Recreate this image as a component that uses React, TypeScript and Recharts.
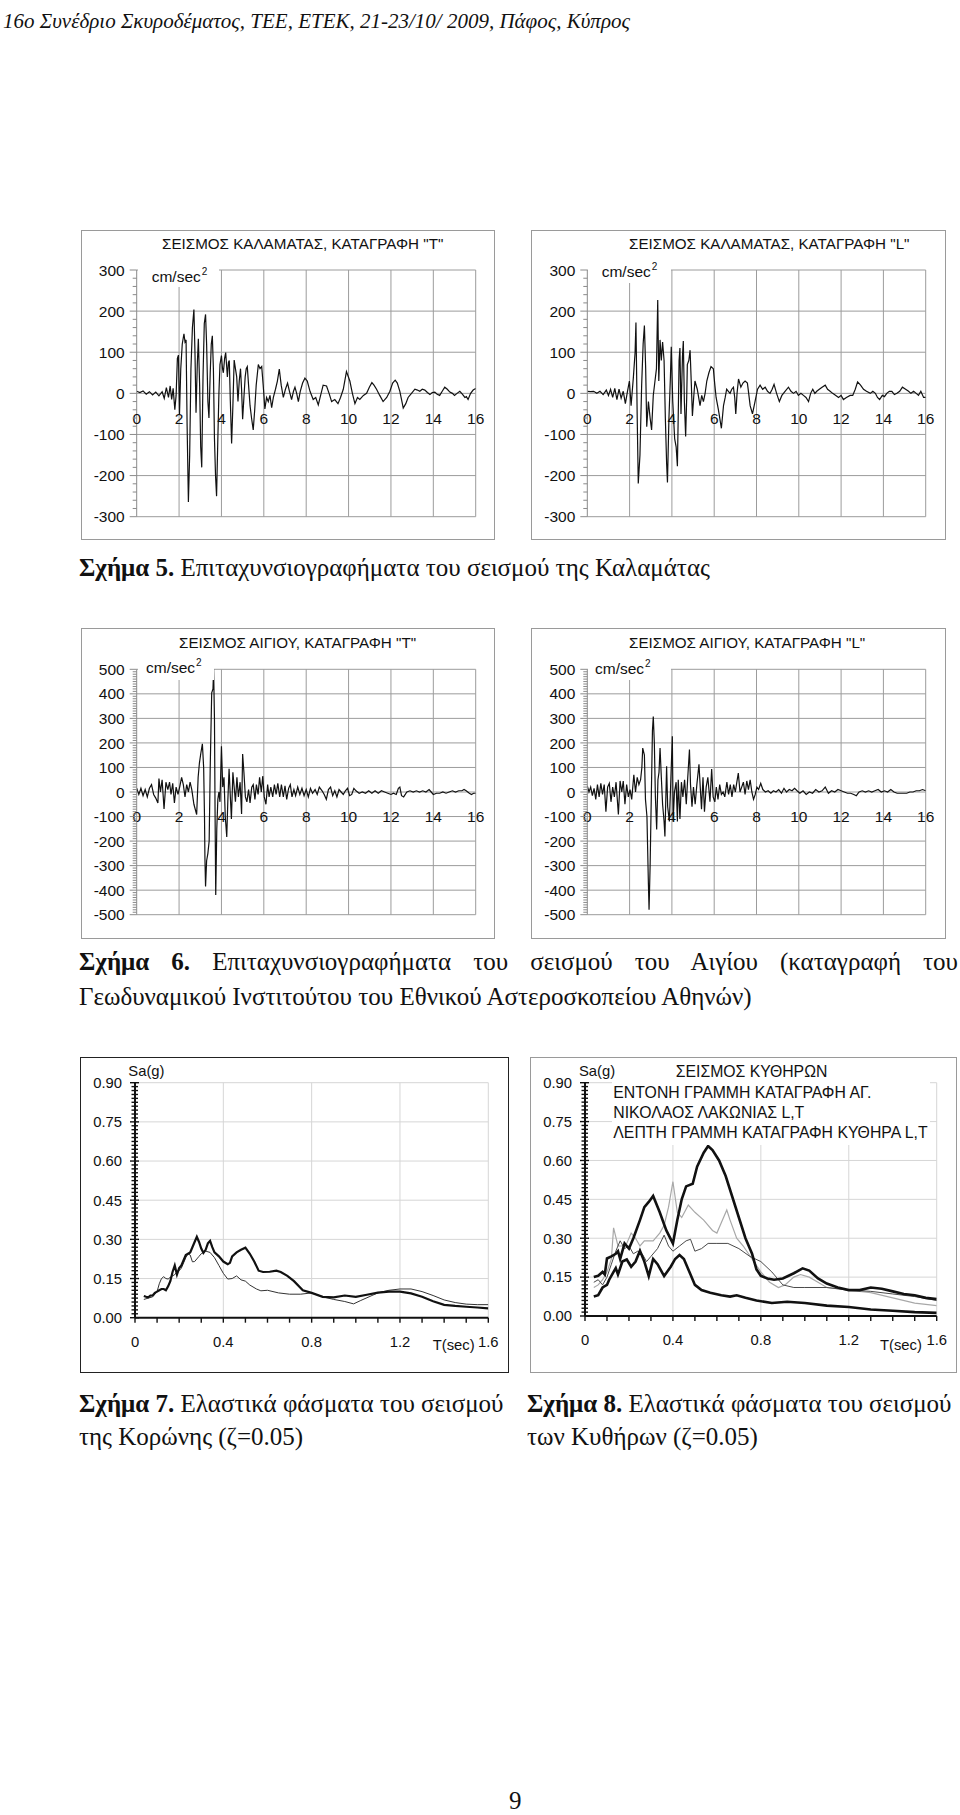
import React from "react";
import { LineChart, Line, XAxis, YAxis, ReferenceLine } from "recharts";

type Pt = [number, number];

// ---------- Data: accelerograms (time s, acceleration cm/s^2) ----------
const kalamataT: Pt[] = [
  [0,5],[0.15,2],[0.3,6],[0.45,-2],[0.6,4],[0.75,-4],[0.9,3],[1.05,-6],[1.2,4],[1.3,-12],
  [1.4,14],[1.5,-10],[1.58,18],[1.65,-15],[1.72,12],[1.8,-40],[1.86,-5],[1.92,85],[1.97,93],[2.02,-50],
  [2.08,60],[2.15,120],[2.23,145],[2.28,125],[2.33,130],[2.38,-80],[2.44,-264],[2.5,-150],[2.56,60],[2.63,160],
  [2.7,204],[2.75,100],[2.8,-47],[2.86,70],[2.91,133],[2.97,20],[3.02,-130],[3.07,-180],[3.13,40],[3.19,170],
  [3.25,192],[3.3,120],[3.36,-20],[3.41,-60],[3.47,50],[3.52,120],[3.57,140],[3.62,60],[3.67,-110],[3.72,-200],
  [3.77,-250],[3.83,-110],[3.88,0],[3.93,70],[4.0,92],[4.05,60],[4.09,50],[4.15,85],[4.2,99],[4.24,70],
  [4.28,40],[4.33,75],[4.37,80],[4.42,-20],[4.48,-122],[4.54,-30],[4.6,81],[4.66,60],[4.72,40],[4.78,-20],
  [4.84,30],[4.9,60],[4.95,10],[5.0,-63],[5.06,-10],[5.12,40],[5.17,60],[5.22,65],[5.28,20],[5.35,-30],
  [5.42,-60],[5.5,-89],[5.57,-40],[5.64,20],[5.74,70],[5.82,60],[5.9,65],[5.97,20],[6.05,-38],[6.13,-10],
  [6.21,-20],[6.29,-5],[6.37,-35],[6.45,-10],[6.55,10],[6.64,30],[6.73,59],[6.82,20],[6.92,-10],[7.02,10],
  [7.12,25],[7.21,5],[7.31,-15],[7.4,5],[7.47,15],[7.55,0],[7.63,-20],[7.72,5],[7.83,25],[7.94,37],
  [8.05,30],[8.18,5],[8.33,-15],[8.45,-10],[8.57,-28],[8.68,-5],[8.8,20],[8.96,18],[9.08,0],[9.2,-20],
  [9.35,-15],[9.5,-25],[9.62,-10],[9.75,10],[9.9,53],[10.06,30],[10.18,0],[10.3,-25],[10.42,-10],[10.53,-15],
  [10.7,-5],[10.85,0],[10.98,15],[11.1,26],[11.2,20],[11.32,10],[11.47,-5],[11.63,-20],[11.8,-10],[11.95,5],
  [12.08,25],[12.2,32],[12.3,25],[12.42,5],[12.5,-15],[12.58,-36],[12.7,-25],[12.81,-10],[12.97,0],[13.13,10],
  [13.25,8],[13.36,5],[13.48,10],[13.6,8],[13.72,2],[13.84,-3],[13.95,2],[14.07,3],[14.18,-2],[14.3,-5],
  [14.42,5],[14.54,15],[14.66,10],[14.78,3],[14.9,0],[15.0,-5],[15.12,0],[15.25,5],[15.37,-2],[15.49,-10],
  [15.56,-8],[15.64,-15],[15.76,0],[15.88,8],[16,12],
];

const kalamataL: Pt[] = [
  [0,5],[0.15,4],[0.3,5],[0.45,0],[0.6,5],[0.75,-3],[0.9,8],[1.0,-5],[1.1,10],[1.2,-10],
  [1.3,12],[1.4,-15],[1.5,10],[1.6,-12],[1.7,5],[1.8,-25],[1.9,5],[1.99,30],[2.07,-30],[2.18,40],
  [2.26,100],[2.3,172],[2.36,-60],[2.41,-219],[2.49,-150],[2.57,20],[2.64,120],[2.7,165],[2.76,60],[2.81,-81],
  [2.89,-20],[2.97,-60],[3.04,-89],[3.12,-5],[3.2,30],[3.27,60],[3.33,227],[3.38,30],[3.44,130],[3.5,80],
  [3.56,125],[3.63,80],[3.69,-60],[3.75,-170],[3.79,-217],[3.86,-60],[3.93,40],[3.97,113],[4.04,-20],[4.13,-110],
  [4.2,-130],[4.26,-177],[4.31,-20],[4.34,80],[4.38,110],[4.43,-50],[4.5,90],[4.54,127],[4.59,-20],[4.65,-105],
  [4.7,-10],[4.73,70],[4.8,80],[4.86,105],[4.92,20],[4.97,-55],[5.03,-10],[5.09,30],[5.2,10],[5.33,-30],
  [5.41,-5],[5.49,-20],[5.57,0],[5.65,30],[5.75,50],[5.85,65],[5.96,60],[6.03,20],[6.09,-10],[6.2,-40],
  [6.34,-85],[6.44,-30],[6.52,-10],[6.59,10],[6.67,5],[6.75,0],[6.83,10],[6.91,15],[6.97,-10],[7.02,-50],
  [7.08,0],[7.15,35],[7.26,15],[7.36,25],[7.46,30],[7.57,25],[7.63,0],[7.7,-30],[7.81,-50],[7.93,-20],
  [8.05,10],[8.17,20],[8.29,10],[8.41,15],[8.52,5],[8.64,0],[8.74,10],[8.83,22],[8.95,0],[9.08,-20],
  [9.2,-5],[9.35,5],[9.51,15],[9.63,5],[9.75,0],[9.87,5],[9.98,-5],[10.1,0],[10.22,-5],[10.34,-10],
  [10.46,-20],[10.56,0],[10.66,10],[10.76,0],[10.85,5],[10.97,10],[11.1,15],[11.25,20],[11.36,10],[11.48,5],
  [11.6,0],[11.75,-5],[11.88,-10],[12.0,-5],[12.11,-15],[12.25,-10],[12.43,-5],[12.55,-5],[12.67,10],[12.78,28],
  [12.92,20],[13.06,10],[13.2,5],[13.38,0],[13.5,5],[13.62,0],[13.72,-10],[13.82,-15],[13.95,-5],[14.05,-8],
  [14.16,0],[14.28,5],[14.4,5],[14.52,-3],[14.64,0],[14.77,5],[14.9,15],[15.05,10],[15.19,5],[15.3,0],
  [15.43,5],[15.55,0],[15.66,-5],[15.77,5],[15.9,-10],[16,-10],
];

const aigioT: Pt[] = [
  [0,15],[0.1,-10],[0.2,15],[0.3,-15],[0.4,10],[0.5,-20],[0.6,15],[0.7,30],[0.8,-10],[0.9,-25],
  [1.0,-45],[1.05,55],[1.12,0],[1.2,50],[1.29,-69],[1.38,40],[1.47,10],[1.55,40],[1.62,-10],[1.7,35],
  [1.78,-45],[1.86,20],[1.95,-10],[2.04,25],[2.12,60],[2.2,30],[2.28,-20],[2.36,30],[2.44,0],[2.52,40],
  [2.6,10],[2.7,-50],[2.83,-92],[2.9,60],[2.96,118],[3.03,160],[3.1,196],[3.16,100],[3.2,-100],[3.22,-269],
  [3.25,-385],[3.3,-280],[3.36,-250],[3.42,-200],[3.47,100],[3.54,404],[3.6,420],[3.63,500],[3.67,300],[3.7,-100],
  [3.73,-420],[3.78,-150],[3.83,-30],[3.88,0],[3.93,-40],[4.0,186],[4.06,20],[4.12,60],[4.18,-100],[4.25,-183],
  [4.3,-40],[4.36,95],[4.42,-20],[4.47,-110],[4.54,80],[4.6,20],[4.66,-40],[4.73,60],[4.8,-20],[4.88,40],
  [4.95,-90],[5.0,155],[5.06,80],[5.13,-20],[5.2,-40],[5.28,10],[5.35,-45],[5.43,20],[5.5,30],[5.58,-30],
  [5.65,30],[5.73,-10],[5.8,60],[5.88,0],[5.95,65],[6.02,-20],[6.1,-50],[6.18,30],[6.25,-20],[6.33,20],
  [6.42,-20],[6.5,30],[6.58,-10],[6.66,35],[6.75,-20],[6.83,30],[6.92,-20],[7.0,25],[7.08,-30],[7.17,15],
  [7.25,30],[7.33,-20],[7.42,10],[7.5,-15],[7.6,20],[7.7,-10],[7.8,15],[7.9,-15],[8.0,10],[8.1,-20],
  [8.2,15],[8.3,-5],[8.42,10],[8.52,-10],[8.62,20],[8.75,5],[8.85,-10],[8.95,-30],[9.05,10],[9.15,20],
  [9.25,-15],[9.35,5],[9.45,-20],[9.55,10],[9.65,0],[9.75,-10],[9.85,5],[9.95,15],[10.05,-15],[10.15,-10],
  [10.25,15],[10.35,5],[10.5,-5],[10.65,0],[10.8,-5],[10.95,5],[11.1,-5],[11.25,5],[11.4,-5],[11.55,5],
  [11.7,0],[11.85,-5],[12.0,-10],[12.12,-5],[12.25,-10],[12.35,15],[12.42,20],[12.5,-15],[12.6,-20],[12.75,0],
  [12.9,5],[13.05,0],[13.2,5],[13.35,0],[13.5,5],[13.65,0],[13.8,10],[13.9,0],[14.0,-10],[14.15,-5],
  [14.3,-5],[14.45,0],[14.6,-5],[14.75,0],[14.9,5],[15.05,0],[15.2,5],[15.35,5],[15.45,10],[15.55,5],
  [15.7,-5],[15.8,-10],[15.9,-5],[16,-5],
];

const aigioL: Pt[] = [
  [0,25],[0.08,0],[0.16,20],[0.24,-15],[0.32,15],[0.4,-30],[0.48,30],[0.56,-20],[0.64,35],[0.72,-10],
  [0.8,30],[0.88,-80],[0.96,20],[1.04,35],[1.12,-40],[1.2,20],[1.28,-20],[1.36,40],[1.47,-92],[1.55,45],
  [1.63,0],[1.7,45],[1.78,-50],[1.86,30],[1.94,-20],[2.02,10],[2.1,-30],[2.2,70],[2.28,0],[2.36,60],
  [2.44,30],[2.52,50],[2.58,100],[2.62,179],[2.7,150],[2.75,-30],[2.82,-100],[2.89,-377],[2.92,-480],[2.97,-300],
  [3.03,0],[3.08,250],[3.12,308],[3.17,200],[3.22,-20],[3.28,-153],[3.34,50],[3.39,80],[3.44,179],[3.5,60],
  [3.56,-50],[3.63,-120],[3.67,-181],[3.72,0],[3.75,105],[3.8,-60],[3.88,-120],[3.95,50],[4.02,227],[4.06,-120],
  [4.12,0],[4.2,40],[4.26,-120],[4.3,50],[4.38,-110],[4.45,40],[4.52,-20],[4.6,50],[4.68,-50],[4.75,60],
  [4.83,173],[4.88,30],[4.95,-60],[5.02,20],[5.1,-50],[5.18,30],[5.28,113],[5.34,20],[5.4,-70],[5.47,60],
  [5.54,-80],[5.62,20],[5.7,60],[5.8,-40],[5.88,94],[5.95,-20],[6.03,-40],[6.1,20],[6.18,-30],[6.26,30],
  [6.34,-10],[6.42,0],[6.5,-20],[6.6,40],[6.68,-10],[6.76,30],[6.84,-20],[6.92,30],[7.0,0],[7.07,40],
  [7.14,77],[7.22,0],[7.3,20],[7.38,40],[7.46,-10],[7.54,45],[7.62,10],[7.7,50],[7.78,0],[7.86,-30],
  [7.94,-10],[8.02,20],[8.1,10],[8.2,35],[8.3,10],[8.42,0],[8.55,5],[8.68,-5],[8.8,5],[8.92,0],
  [9.05,10],[9.18,-5],[9.3,15],[9.42,0],[9.55,10],[9.68,5],[9.8,15],[9.92,5],[10.05,-5],[10.2,5],
  [10.35,-10],[10.5,0],[10.65,-5],[10.8,10],[10.95,0],[11.1,5],[11.25,20],[11.4,-5],[11.55,5],[11.7,0],
  [11.85,10],[12.0,5],[12.15,0],[12.3,-5],[12.45,-5],[12.6,-10],[12.72,-15],[12.85,0],[13.0,5],[13.15,0],
  [13.3,5],[13.45,0],[13.6,5],[13.75,10],[13.9,0],[14.05,5],[14.2,0],[14.35,10],[14.5,0],[14.65,-5],
  [14.8,-5],[14.95,-5],[15.1,-5],[15.25,0],[15.4,0],[15.55,5],[15.7,5],[15.85,10],[16,5],
];

// ---------- Data: elastic spectra (period s, Sa g) ----------
const koroniThick: Pt[] = [
  [0.04,0.083],[0.05,0.08],[0.06,0.078],[0.07,0.085],[0.08,0.085],[0.09,0.095],[0.1,0.1],[0.11,0.105],[0.12,0.11],[0.13,0.11],
  [0.14,0.105],[0.15,0.12],[0.16,0.14],[0.17,0.175],[0.18,0.2],[0.19,0.165],[0.2,0.19],[0.21,0.2],[0.22,0.22],[0.23,0.24],
  [0.24,0.245],[0.25,0.25],[0.26,0.27],[0.27,0.29],[0.28,0.31],[0.29,0.29],[0.3,0.265],[0.31,0.248],[0.32,0.26],[0.33,0.285],
  [0.34,0.294],[0.35,0.27],[0.36,0.25],[0.38,0.235],[0.4,0.215],[0.42,0.205],[0.43,0.21],[0.44,0.235],[0.46,0.25],[0.48,0.26],
  [0.5,0.268],[0.52,0.245],[0.54,0.215],[0.56,0.18],[0.58,0.175],[0.61,0.176],[0.64,0.18],[0.66,0.175],[0.69,0.16],[0.72,0.14],
  [0.76,0.105],[0.8,0.095],[0.85,0.08],[0.9,0.078],[0.95,0.085],[1.0,0.08],[1.05,0.088],[1.1,0.096],[1.15,0.1],[1.2,0.1],
  [1.25,0.093],[1.3,0.08],[1.35,0.063],[1.4,0.049],[1.45,0.045],[1.5,0.042],[1.55,0.039],[1.6,0.036],
];
const koroniThin: Pt[] = [
  [0.04,0.07],[0.06,0.075],[0.08,0.08],[0.1,0.1],[0.11,0.13],[0.12,0.15],[0.13,0.157],[0.14,0.15],[0.15,0.148],[0.16,0.155],
  [0.17,0.16],[0.18,0.165],[0.19,0.175],[0.2,0.18],[0.21,0.19],[0.22,0.21],[0.23,0.23],[0.24,0.245],[0.25,0.24],[0.26,0.214],
  [0.27,0.215],[0.28,0.225],[0.29,0.235],[0.3,0.245],[0.32,0.255],[0.34,0.25],[0.36,0.23],[0.38,0.2],[0.4,0.17],[0.42,0.148],
  [0.44,0.15],[0.46,0.16],[0.48,0.145],[0.5,0.14],[0.52,0.125],[0.55,0.11],[0.57,0.103],[0.6,0.105],[0.65,0.095],[0.7,0.09],
  [0.75,0.09],[0.8,0.095],[0.85,0.08],[0.9,0.07],[0.95,0.062],[0.99,0.053],[1.02,0.065],[1.06,0.08],[1.1,0.095],[1.15,0.105],
  [1.2,0.11],[1.25,0.11],[1.3,0.1],[1.35,0.085],[1.4,0.068],[1.45,0.058],[1.5,0.052],[1.55,0.05],[1.6,0.05],
];

const kytheraAgNikThickA: Pt[] = [
  [0.04,0.15],[0.06,0.155],[0.08,0.17],[0.09,0.16],[0.1,0.222],[0.12,0.23],[0.14,0.24],[0.15,0.25],[0.16,0.22],[0.18,0.28],
  [0.2,0.26],[0.22,0.3],[0.25,0.37],[0.27,0.42],[0.29,0.44],[0.31,0.463],[0.34,0.4],[0.37,0.33],[0.4,0.28],[0.42,0.37],
  [0.44,0.45],[0.46,0.5],[0.49,0.51],[0.51,0.576],[0.54,0.63],[0.56,0.656],[0.58,0.64],[0.61,0.6],[0.64,0.54],[0.67,0.46],
  [0.7,0.38],[0.73,0.3],[0.76,0.24],[0.78,0.18],[0.8,0.155],[0.83,0.145],[0.86,0.14],[0.9,0.145],[0.95,0.165],[0.99,0.184],
  [1.02,0.175],[1.06,0.145],[1.1,0.125],[1.15,0.11],[1.2,0.1],[1.25,0.1],[1.3,0.11],[1.35,0.105],[1.4,0.095],[1.45,0.085],
  [1.5,0.08],[1.55,0.07],[1.6,0.065],
];
const kytheraAgNikThickB: Pt[] = [
  [0.04,0.075],[0.06,0.08],[0.08,0.11],[0.1,0.12],[0.11,0.14],[0.13,0.17],[0.14,0.185],[0.15,0.16],[0.17,0.21],[0.19,0.218],
  [0.21,0.19],[0.23,0.21],[0.25,0.252],[0.27,0.21],[0.29,0.154],[0.31,0.22],[0.33,0.2],[0.36,0.154],[0.39,0.19],[0.41,0.22],
  [0.43,0.235],[0.45,0.22],[0.48,0.16],[0.5,0.12],[0.53,0.1],[0.57,0.09],[0.62,0.08],[0.66,0.075],[0.69,0.08],[0.73,0.07],
  [0.78,0.06],[0.85,0.05],[0.92,0.055],[1.0,0.05],[1.1,0.04],[1.2,0.035],[1.3,0.025],[1.4,0.02],[1.5,0.015],[1.6,0.012],
];
const kytheraLightC: Pt[] = [
  [0.04,0.11],[0.06,0.12],[0.08,0.14],[0.1,0.17],[0.12,0.22],[0.13,0.34],[0.15,0.27],[0.17,0.27],[0.19,0.28],[0.21,0.32],
  [0.23,0.3],[0.25,0.27],[0.27,0.29],[0.29,0.29],[0.31,0.29],[0.34,0.32],[0.36,0.35],[0.38,0.42],[0.4,0.518],[0.42,0.4],
  [0.44,0.38],[0.47,0.428],[0.5,0.4],[0.54,0.37],[0.58,0.33],[0.6,0.32],[0.62,0.36],[0.645,0.409],[0.66,0.37],[0.69,0.3],
  [0.72,0.27],[0.76,0.22],[0.8,0.17],[0.84,0.13],[0.88,0.11],[0.91,0.12],[0.95,0.15],[0.98,0.16],[1.02,0.15],[1.06,0.13],
  [1.1,0.11],[1.2,0.1],[1.3,0.09],[1.4,0.07],[1.5,0.05],[1.6,0.04],
];
const kytheraDarkD: Pt[] = [
  [0.04,0.13],[0.06,0.14],[0.08,0.12],[0.1,0.15],[0.12,0.2],[0.14,0.25],[0.16,0.29],[0.18,0.26],[0.2,0.27],[0.22,0.24],
  [0.24,0.25],[0.26,0.24],[0.28,0.21],[0.3,0.23],[0.33,0.26],[0.36,0.312],[0.38,0.27],[0.4,0.25],[0.43,0.27],[0.46,0.29],
  [0.48,0.296],[0.5,0.25],[0.53,0.26],[0.56,0.28],[0.6,0.28],[0.65,0.28],[0.7,0.26],[0.75,0.23],[0.8,0.21],[0.85,0.17],
  [0.9,0.12],[0.95,0.11],[1.0,0.11],[1.1,0.11],[1.2,0.1],[1.3,0.095],[1.4,0.085],[1.5,0.075],[1.6,0.06],
];

// ---------- Tick labels ----------
const traceXTicks = [0, 2, 4, 6, 8, 10, 12, 14, 16];
const kalamataYLabels = [-300, -200, -100, 0, 100, 200, 300];
const aigioYLabels = [-500, -400, -300, -200, -100, 0, 100, 200, 300, 400, 500];
const spectraXLabels = [0, 0.4, 0.8, 1.2, 1.6];
const spectraXMinor = [0, 0.1, 0.2, 0.3, 0.4, 0.5, 0.6, 0.7, 0.8, 0.9, 1.0, 1.1, 1.2, 1.3, 1.4, 1.5, 1.6];
const spectraYLabels = [0, 0.15, 0.3, 0.45, 0.6, 0.75, 0.9];

const SANS = "'Liberation Sans', Arial, Helvetica, sans-serif";
const SERIF = "'Liberation Serif', 'Times New Roman', serif";

type TraceProps = {
  left: number; top: number; w: number; h: number;
  plotL: number; plotT: number; plotR: number; plotB: number;
  data: Pt[]; yMax: number; minorStep: number; yLabels: number[];
  title: string; titleL: number; titleCy: number;
  unitL: number; unitCy: number; cover: [number, number, number, number];
  xLabelOff: number;
};

function TraceChart(p: TraceProps) {
  const plotH = p.plotB - p.plotT;
  const rows = p.data.map(([t, v]) => ({ t, v }));
  const minorTicks: number[] = [];
  const n = Math.round((2 * p.yMax) / p.minorStep);
  for (let i = 0; i <= n; i++) minorTicks.push(Math.round(-p.yMax + i * p.minorStep));
  const yTick = (props: any) => {
    const { x, y, payload } = props;
    const v = payload.value;
    const major = p.yLabels.includes(v);
    return (
      <g>
        <line x1={x} x2={x - (major ? 7 : 4)} y1={y} y2={y} stroke="#8a8a8a" strokeWidth={1} />
        {major && (
          <text x={x - 12} y={y} dy="0.36em" textAnchor="end" fontSize={15.5} fontFamily={SANS} fill="#111">
            {v}
          </text>
        )}
      </g>
    );
  };
  const xTick = (props: any) => {
    const { x, y, payload } = props;
    return (
      <text x={x} y={y - plotH / 2 + p.xLabelOff} dy="0.36em" textAnchor="middle" fontSize={15.5} fontFamily={SANS} fill="#111">
        {payload.value}
      </text>
    );
  };
  return (
    <>
      <div style={{ position: "absolute", left: p.left, top: p.top, width: p.w, height: p.h }}>
        <LineChart width={p.w} height={p.h} data={rows} margin={{ top: p.plotT, right: p.w - p.plotR, bottom: 0, left: 0 }}>
          <XAxis dataKey="t" type="number" domain={[0, 16]} ticks={traceXTicks} interval={0} axisLine={false}
            tickLine={false} tickSize={0} tickMargin={0} height={p.h - p.plotB} tick={xTick} allowDataOverflow />
          <YAxis type="number" domain={[-p.yMax, p.yMax]} ticks={minorTicks} interval={0} width={p.plotL}
            axisLine={{ stroke: "#8a8a8a", strokeWidth: 1 }} tickLine={false} tickSize={0} tickMargin={0} tick={yTick} allowDataOverflow />
          {p.yLabels.map((v) => (
            <ReferenceLine key={"gy" + v} y={v} stroke="#9c9c9c" strokeWidth={1} />
          ))}
          {traceXTicks.slice(1).map((v) => (
            <ReferenceLine key={"gx" + v} x={v} stroke="#9c9c9c" strokeWidth={1} />
          ))}
          <Line dataKey="v" stroke="#111" strokeWidth={1.2} dot={false} isAnimationActive={false} type="linear" />
        </LineChart>
      </div>
      <div style={{ position: "absolute", left: p.left, top: p.top, width: p.w, height: p.h, boxSizing: "border-box", border: "1.5px solid #9a9a9a" }} />
      <div style={{ position: "absolute", left: p.titleL, top: p.titleCy - 8, lineHeight: "16px", fontSize: 15.2, fontFamily: SANS, whiteSpace: "nowrap", color: "#111" }}>
        {p.title}
      </div>
      <div style={{ position: "absolute", left: p.cover[0], top: p.cover[1], width: p.cover[2] - p.cover[0], height: p.cover[3] - p.cover[1], background: "#fff" }} />
      <div style={{ position: "absolute", left: p.unitL, top: p.unitCy - 8, lineHeight: "16px", fontSize: 15.5, fontFamily: SANS, whiteSpace: "nowrap", color: "#111" }}>
        cm/sec<span style={{ fontSize: 10, position: "relative", top: -7, marginLeft: 1 }}>2</span>
      </div>
    </>
  );
}

type SpecLine = { data: Pt[]; color: string; width: number };
type SpecProps = {
  left: number; top: number; w: number; h: number;
  plotL: number; plotT: number; plotR: number; plotB: number;
  lines: SpecLine[]; border: string;
};

function SpectraChart(p: SpecProps) {
  const minor: number[] = [];
  for (let i = 0; i <= 60; i++) minor.push(Math.round(i * 15) / 1000);
  const yTick = (props: any) => {
    const { x, y, payload } = props;
    const v = payload.value as number;
    const major = spectraYLabels.some((m) => Math.abs(m - v) < 1e-6);
    return (
      <g>
        <line x1={x - (major ? 5 : 3.5)} x2={x + (major ? 4 : 3)} y1={y} y2={y} stroke="#111" strokeWidth={1.4} />
        {major && (
          <text x={x - 13} y={y} dy="0.36em" textAnchor="end" fontSize={14.8} fontFamily={SANS} fill="#111">
            {v.toFixed(2)}
          </text>
        )}
      </g>
    );
  };
  const xTick = (props: any) => {
    const { x, y, payload } = props;
    const v = payload.value as number;
    const major = spectraXLabels.some((m) => Math.abs(m - v) < 1e-6);
    return (
      <g>
        <line x1={x} x2={x} y1={y} y2={y + 5} stroke="#111" strokeWidth={1.4} />
        {major && (
          <text x={x} y={y + 24} dy="0.36em" textAnchor="middle" fontSize={14.8} fontFamily={SANS} fill="#111">
            {String(v)}
          </text>
        )}
      </g>
    );
  };
  return (
    <>
      <div style={{ position: "absolute", left: p.left, top: p.top, width: p.w, height: p.h }}>
        <LineChart width={p.w} height={p.h} margin={{ top: p.plotT, right: p.w - p.plotR, bottom: 0, left: 0 }}>
          <XAxis dataKey="t" type="number" domain={[0, 1.6]} ticks={spectraXMinor} interval={0}
            axisLine={{ stroke: "#111", strokeWidth: 2 }} tickLine={false} tickSize={0} tickMargin={0}
            height={p.h - p.plotB} tick={xTick} allowDataOverflow />
          <YAxis type="number" domain={[0, 0.9]} ticks={minor} interval={0} width={p.plotL}
            axisLine={{ stroke: "#111", strokeWidth: 2 }} tickLine={false} tickSize={0} tickMargin={0} tick={yTick} allowDataOverflow />
          {spectraYLabels.slice(1).map((v) => (
            <ReferenceLine key={"gy" + v} y={v} stroke="#d6d6d6" strokeWidth={1} />
          ))}
          {spectraXLabels.slice(1).map((v) => (
            <ReferenceLine key={"gx" + v} x={v} stroke="#d6d6d6" strokeWidth={1} />
          ))}
          {p.lines.map((l, i) => (
            <Line key={i} data={l.data.map(([t, v]) => ({ t, v }))} dataKey="v" stroke={l.color} strokeWidth={l.width}
              dot={false} isAnimationActive={false} type="linear" />
          ))}
        </LineChart>
      </div>
      <div style={{ position: "absolute", left: p.left, top: p.top, width: p.w, height: p.h, boxSizing: "border-box", border: p.border }} />
    </>
  );
}

function Txt(props: { left: number; cy: number; size: number; children: React.ReactNode; family?: string; style?: React.CSSProperties }) {
  return (
    <div style={{ position: "absolute", left: props.left, top: props.cy - props.size / 2, lineHeight: props.size + "px", fontSize: props.size,
      fontFamily: props.family || SANS, whiteSpace: "nowrap", color: "#111", ...(props.style || {}) }}>
      {props.children}
    </div>
  );
}

export default function App() {
  return (
    <div style={{ position: "absolute", left: 0, top: 0, width: 960, height: 1815, background: "#fff", overflow: "hidden" }}>
      <Txt left={3} cy={21} size={21} family={SERIF} style={{ fontStyle: "italic" }}>
        16ο Συνέδριο Σκυροδέματος, ΤΕΕ, ΕΤΕΚ, 21-23/10/ 2009, Πάφος, Κύπρος
      </Txt>

      <TraceChart left={81} top={230} w={414} h={310} plotL={55.7} plotT={40} plotR={394.7} plotB={286.7}
        data={kalamataT} yMax={300} minorStep={20} yLabels={kalamataYLabels}
        title={'ΣΕΙΣΜΟΣ ΚΑΛΑΜΑΤΑΣ, ΚΑΤΑΓΡΑΦΗ "T"'} titleL={162} titleCy={244}
        unitL={151.7} unitCy={277} cover={[138, 259, 219, 287]} xLabelOff={25} />
      <TraceChart left={531} top={230} w={415} h={310} plotL={56.3} plotT={40} plotR={394.7} plotB={286.7}
        data={kalamataL} yMax={300} minorStep={20} yLabels={kalamataYLabels}
        title={'ΣΕΙΣΜΟΣ ΚΑΛΑΜΑΤΑΣ, ΚΑΤΑΓΡΑΦΗ "L"'} titleL={629} titleCy={244}
        unitL={601.7} unitCy={272} cover={[588, 256, 671, 283]} xLabelOff={25} />

      <Txt left={79} cy={567} size={25} family={SERIF}>
        <b>Σχήμα 5.</b> Επιταχυνσιογραφήματα του σεισμού της Καλαμάτας
      </Txt>

      <TraceChart left={81} top={628} w={414} h={311} plotL={55.7} plotT={41.3} plotR={394.7} plotB={286.7}
        data={aigioT} yMax={500} minorStep={10} yLabels={aigioYLabels}
        title={'ΣΕΙΣΜΟΣ ΑΙΓΙΟΥ, ΚΑΤΑΓΡΑΦΗ "T"'} titleL={179} titleCy={643}
        unitL={146} unitCy={668} cover={[138, 655, 214, 680]} xLabelOff={24.4} />
      <TraceChart left={531} top={628} w={415} h={311} plotL={56.3} plotT={41.3} plotR={394.7} plotB={286.7}
        data={aigioL} yMax={500} minorStep={10} yLabels={aigioYLabels}
        title={'ΣΕΙΣΜΟΣ ΑΙΓΙΟΥ, ΚΑΤΑΓΡΑΦΗ "L"'} titleL={629} titleCy={643}
        unitL={595} unitCy={669} cover={[588, 655, 671, 680]} xLabelOff={24.4} />

      <div style={{ position: "absolute", left: 79, top: 961 - 12.5, width: 879, lineHeight: "25px", fontSize: 25, fontFamily: SERIF,
        textAlign: "justify", textAlignLast: "justify" as any, whiteSpace: "nowrap", color: "#111" }}>
        <b>Σχήμα 6.</b> Επιταχυνσιογραφήματα του σεισμού του Αιγίου (καταγραφή του
      </div>
      <Txt left={79} cy={996} size={25} family={SERIF}>
        Γεωδυναμικού Ινστιτούτου του Εθνικού Αστεροσκοπείου Αθηνών)
      </Txt>

      <SpectraChart left={80} top={1057} w={429} h={316} plotL={55} plotT={25.7} plotR={408.3} plotB={260.7}
        border="1.5px solid #222"
        lines={[
          { data: koroniThin, color: "#333", width: 1 },
          { data: koroniThick, color: "#111", width: 2.2 },
        ]} />
      <Txt left={128.3} cy={1071.7} size={14.8}>Sa(g)</Txt>
      <Txt left={432.7} cy={1345} size={14.8}>T(sec)</Txt>

      <SpectraChart left={530} top={1057} w={427} h={316} plotL={55} plotT={25.7} plotR={406.7} plotB={259}
        border="1.5px solid #9a9a9a"
        lines={[
          { data: kytheraLightC, color: "#a8a8a8", width: 1.2 },
          { data: kytheraDarkD, color: "#4a4a4a", width: 1 },
          { data: kytheraAgNikThickB, color: "#111", width: 2.6 },
          { data: kytheraAgNikThickA, color: "#111", width: 2.6 },
        ]} />
      <div style={{ position: "absolute", left: 612, top: 1060, width: 318, height: 85, background: "#fff" }} />
      <Txt left={579} cy={1071.7} size={14.8}>Sa(g)</Txt>
      <Txt left={675.7} cy={1071.7} size={15.8}>ΣΕΙΣΜΟΣ ΚΥΘΗΡΩΝ</Txt>
      <Txt left={613.3} cy={1093.3} size={15.8}>ΕΝΤΟΝΗ ΓΡΑΜΜΗ ΚΑΤΑΓΡΑΦΗ ΑΓ.</Txt>
      <Txt left={613.3} cy={1113.3} size={15.8}>ΝΙΚΟΛΑΟΣ ΛΑΚΩΝΙΑΣ L,T</Txt>
      <Txt left={613.3} cy={1133.3} size={15.8}>ΛΕΠΤΗ ΓΡΑΜΜΗ ΚΑΤΑΓΡΑΦΗ ΚΥΘΗΡΑ L,T</Txt>
      <Txt left={880} cy={1345} size={14.8}>T(sec)</Txt>

      <Txt left={79} cy={1403} size={25} family={SERIF}>
        <b>Σχήμα 7.</b> Ελαστικά φάσματα του σεισμού
      </Txt>
      <Txt left={79} cy={1436} size={25} family={SERIF}>
        της Κορώνης (ζ=0.05)
      </Txt>
      <Txt left={527} cy={1403} size={25} family={SERIF}>
        <b>Σχήμα 8.</b> Ελαστικά φάσματα του σεισμού
      </Txt>
      <Txt left={527} cy={1436} size={25} family={SERIF}>
        των Κυθήρων (ζ=0.05)
      </Txt>

      <Txt left={509} cy={1800} size={25} family={SERIF}>9</Txt>
    </div>
  );
}
